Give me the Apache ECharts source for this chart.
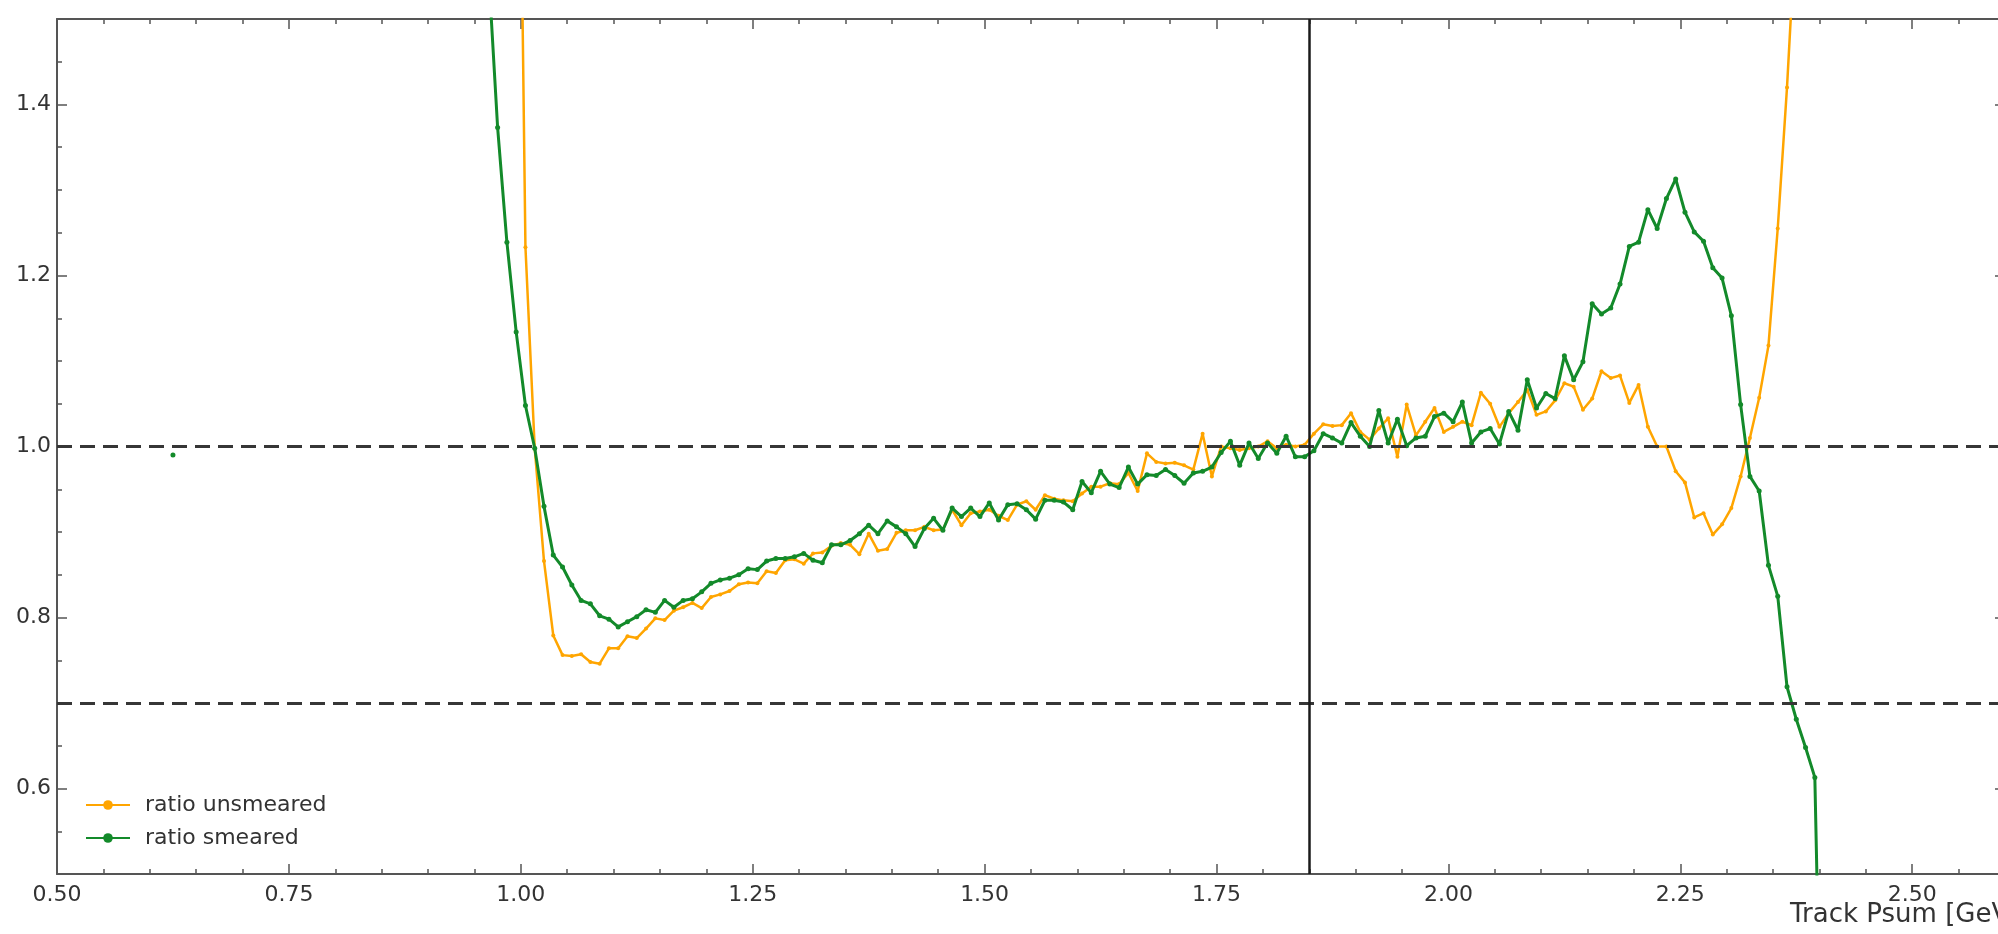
<!DOCTYPE html>
<html>
<head>
<meta charset="utf-8">
<title>ratio smeared / unsmeared</title>
<script src="https://cdn.jsdelivr.net/npm/echarts@6.0.0/dist/echarts.min.js"></script>
<style>
  html, body { margin: 0; padding: 0; background: #fff; }
  #chart { width: 1998px; height: 934px; }
</style>
</head>
<body>
<div id="chart"></div>
<script>
// histogram bins are 0.01 wide, values are bin centres
const binWidth = 0.01;

// ratio unsmeared, first bin centre 0.995
const unsmearedStart = 0.995;
const unsmeared = [
  2.1, 1.233, 0.998, 0.866, 0.779, 0.756, 0.755, 0.757, 0.748, 0.746,
  0.764, 0.764, 0.778, 0.776, 0.787, 0.799, 0.797, 0.808, 0.812, 0.817,
  0.811, 0.824, 0.827, 0.831, 0.839, 0.841, 0.840, 0.854, 0.852, 0.867,
  0.868, 0.863, 0.875, 0.876, 0.884, 0.887, 0.885, 0.874, 0.898, 0.878,
  0.880, 0.899, 0.902, 0.902, 0.906, 0.902, 0.903, 0.926, 0.908, 0.922,
  0.924, 0.926, 0.919, 0.914, 0.932, 0.936, 0.926, 0.943, 0.939, 0.937,
  0.936, 0.945, 0.953, 0.953, 0.957, 0.956, 0.969, 0.948, 0.992, 0.982,
  0.980, 0.981, 0.978, 0.973, 1.015, 0.965, 1.000, 0.998, 0.996, 0.998,
  1.000, 1.006, 0.998, 1.002, 1.000, 1.002, 1.015, 1.026, 1.024, 1.025,
  1.039, 1.017, 1.008, 1.021, 1.033, 0.988, 1.049, 1.013, 1.029, 1.045,
  1.017, 1.023, 1.029, 1.025, 1.063, 1.050, 1.023, 1.039, 1.052, 1.066,
  1.037, 1.041, 1.054, 1.074, 1.070, 1.043, 1.056, 1.088, 1.080, 1.083,
  1.051, 1.072, 1.023, 1.000, 1.000, 0.971, 0.958, 0.917, 0.922, 0.897,
  0.909, 0.928, 0.965, 1.010, 1.057, 1.118, 1.255, 1.420, 1.62
];

// ratio smeared, first bin centre 0.965
const smearedStart = 0.965;
const smeared = [
  1.56, 1.373, 1.239, 1.134, 1.048, 0.998, 0.930, 0.873, 0.859, 0.838,
  0.820, 0.816, 0.802, 0.798, 0.789, 0.795, 0.801, 0.809, 0.806, 0.820,
  0.812, 0.820, 0.822, 0.830, 0.840, 0.844, 0.846, 0.850, 0.857, 0.856,
  0.866, 0.869, 0.869, 0.871, 0.875, 0.867, 0.864, 0.885, 0.885, 0.890,
  0.898, 0.908, 0.898, 0.913, 0.906, 0.898, 0.883, 0.904, 0.916, 0.902,
  0.928, 0.918, 0.928, 0.918, 0.934, 0.914, 0.932, 0.933, 0.926, 0.915,
  0.937, 0.937, 0.935, 0.926, 0.959, 0.946, 0.971, 0.956, 0.952, 0.976,
  0.956, 0.967, 0.966, 0.973, 0.966, 0.957, 0.969, 0.971, 0.976, 0.993,
  1.006, 0.978, 1.004, 0.986, 1.004, 0.992, 1.012, 0.988, 0.988, 0.995,
  1.015, 1.010, 1.004, 1.028, 1.012, 1.000, 1.042, 1.004, 1.032, 1.001,
  1.010, 1.012, 1.035, 1.039, 1.029, 1.052, 1.004, 1.017, 1.021, 1.003,
  1.041, 1.019, 1.078, 1.045, 1.062, 1.056, 1.106, 1.078, 1.099, 1.167,
  1.155, 1.162, 1.190, 1.234, 1.239, 1.277, 1.255, 1.290, 1.313, 1.274,
  1.251, 1.240, 1.209, 1.197, 1.153, 1.049, 0.965, 0.948, 0.861, 0.825,
  0.719, 0.681, 0.648, 0.613, 0.1
];

// single isolated smeared bin far to the left
const smearedLone = [[0.625, 0.99]];

const xTicks = [0.5, 0.75, 1.0, 1.25, 1.5, 1.75, 2.0, 2.25, 2.5];
const yTicks = [0.6, 0.8, 1.0, 1.2, 1.4];
const refLevels = [1.0, 0.7];
const cutX = 1.85;

const orange = '#ffa500';
const green = '#138a2a';
const axisColor = '#555';
const textColor = '#333';
const font = 'DejaVu Sans';

function toPairs(start, values) {
  return values.map((v, i) => [Math.round((start + i * binWidth) * 1000) / 1000, v]);
}

function onTick(value, list) {
  return list.some(t => Math.abs(t - value) < 1e-6);
}

// fine ticks every 0.05 with the frame line; optional labels
function fineAxis(pos, min, max, labels) {
  return {
    type: 'value', position: pos, min: min, max: max, interval: 0.05,
    splitLine: { show: false },
    axisLine: { show: true, onZero: false, lineStyle: { color: axisColor, width: 2 } },
    axisTick: { show: true, inside: true, length: 5, lineStyle: { color: axisColor, width: 1.5 } },
    axisLabel: labels ? labels : { show: false }
  };
}

// longer ticks at the labelled values only
function majorAxis(pos, min, max, ticks) {
  return {
    type: 'value', position: pos, min: min, max: max,
    splitLine: { show: false },
    axisLine: { show: false, onZero: false },
    axisTick: { show: true, inside: true, length: 10, customValues: ticks,
      lineStyle: { color: axisColor, width: 1.5 } },
    axisLabel: { show: false }
  };
}

const xLabels = {
  show: true, margin: 10, fontFamily: font, fontSize: 22, color: textColor,
  formatter: v => onTick(v, xTicks) ? v.toFixed(2) : ''
};
const yLabels = {
  show: true, margin: 6, fontFamily: font, fontSize: 22, color: textColor,
  formatter: v => onTick(v, yTicks) ? v.toFixed(1) : ''
};

const refLines = refLevels.map(v => ({ yAxis: v }));
refLines.push({ xAxis: cutX, lineStyle: { type: 'solid', color: '#1a1a1a', width: 2.5 } });

const chart = echarts.init(document.getElementById('chart'));
chart.setOption({
  animation: false,
  backgroundColor: '#fff',
  textStyle: { fontFamily: font },
  grid: { left: 57, right: -7, top: 19, bottom: 60, outerBoundsMode: 'none' },
  xAxis: [
    fineAxis('bottom', 0.5, 2.6, xLabels),
    majorAxis('bottom', 0.5, 2.6, xTicks),
    fineAxis('top', 0.5, 2.6, null),
    majorAxis('top', 0.5, 2.6, xTicks)
  ],
  yAxis: [
    fineAxis('left', 0.5, 1.5, yLabels),
    majorAxis('left', 0.5, 1.5, yTicks),
    fineAxis('right', 0.5, 1.5, null),
    majorAxis('right', 0.5, 1.5, yTicks)
  ],
  legend: {
    data: ['ratio unsmeared', 'ratio smeared'],
    orient: 'vertical', left: 80, top: 789,
    itemWidth: 44, itemHeight: 12, itemGap: 11,
    textStyle: { fontFamily: font, fontSize: 22, color: textColor, padding: [0, 0, 0, 10] }
  },
  graphic: [{
    type: 'text', left: 1790, top: 902,
    style: { text: 'Track Psum [GeV]', font: '26px "DejaVu Sans"', fill: textColor }
  }],
  series: [
    {
      type: 'line', data: [], z: 1, silent: true,
      markLine: {
        silent: true, symbol: ['none', 'none'], label: { show: false },
        lineStyle: { type: [15, 8], color: '#363636', width: 3 },
        data: refLines
      }
    },
    {
      name: 'ratio unsmeared', type: 'line', z: 3,
      data: toPairs(unsmearedStart, unsmeared),
      color: orange, symbol: 'circle', symbolSize: 4,
      lineStyle: { width: 2.5 }
    },
    {
      name: 'ratio smeared', type: 'line', z: 4,
      data: toPairs(smearedStart, smeared),
      color: green, symbol: 'circle', symbolSize: 5,
      lineStyle: { width: 3 }
    },
    {
      name: 'ratio smeared', type: 'line', z: 4,
      data: smearedLone,
      color: green, symbol: 'circle', symbolSize: 5,
      lineStyle: { width: 3 }
    }
  ]
});
</script>
</body>
</html>
